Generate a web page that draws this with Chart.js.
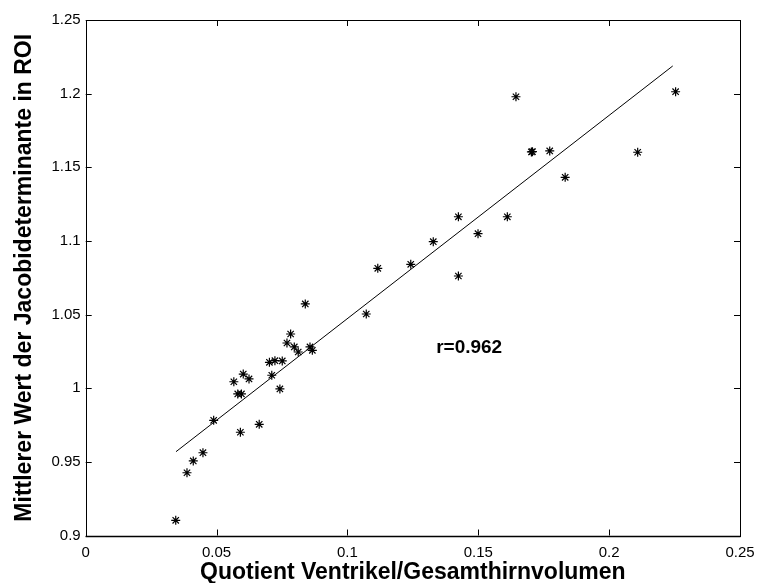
<!DOCTYPE html>
<html>
<head>
<meta charset="utf-8">
<script src="https://cdn.jsdelivr.net/npm/chart.js@4.4.1/dist/chart.umd.min.js"></script>
<style>
  html, body { margin: 0; padding: 0; background: #fff; }
  #wrap { width: 758px; height: 583px; }
</style>
</head>
<body>
<div id="wrap"><canvas id="c" width="758" height="583"></canvas></div>
<script>
const xValues = [0.0344, 0.0387, 0.0411, 0.0448, 0.0489, 0.0591, 0.0663, 0.0566, 0.0581, 0.0595,
                 0.0602, 0.0624, 0.0702, 0.0723, 0.0751, 0.0711, 0.0742, 0.0769, 0.0783, 0.0797,
                 0.0812, 0.0839, 0.0857, 0.0866, 0.1072, 0.1116, 0.1242, 0.1424, 0.1424, 0.1328,
                 0.1499, 0.1611, 0.1644, 0.1703, 0.1707, 0.1773, 0.1832, 0.2109, 0.2254];
const yValues = [0.9103, 0.9426, 0.9506, 0.9562, 0.9782, 0.9701, 0.9755, 1.0044, 0.9961, 0.9961,
                 1.0096, 1.0063, 1.0176, 1.0187, 1.0185, 1.0088, 0.9995, 1.0307, 1.0368, 1.0280,
                 1.0246, 1.0572, 1.0280, 1.0257, 1.0504, 1.0814, 1.0841, 1.1164, 1.0762, 1.0995,
                 1.1049, 1.1164, 1.1979, 1.1604, 1.1606, 1.1611, 1.1432, 1.1602, 1.2013];
const fitX = [0.0345, 0.2243];
const fitY = [0.9569, 1.2188];
const xTickLabels = ['0', '0.05', '0.1', '0.15', '0.2', '0.25'];
const yTickLabels = ['0.9', '0.95', '1', '1.05', '1.1', '1.15', '1.2', '1.25'];
const annotationText = 'r=0.962';
const annotationPos = [0.1339, 1.0273];
const xTitle = 'Quotient Ventrikel/Gesamthirnvolumen';
const yTitle = 'Mittlerer Wert der Jacobideterminante in ROI';

const points = xValues.map((x, i) => ({ x: x, y: yValues[i] }));
const fitLine = fitX.map((x, i) => ({ x: x, y: fitY[i] }));

const FONT = '"Liberation Sans", Arial, Helvetica, sans-serif';

const boxPlugin = {
  id: 'boxTicks',
  afterDraw(chart) {
    const ctx = chart.ctx;
    const a = chart.chartArea;
    const xs = chart.scales.x, ys = chart.scales.y;
    ctx.save();
    ctx.strokeStyle = '#000';
    ctx.lineWidth = 1;
    ctx.strokeRect(Math.round(a.left) + 0.5, Math.round(a.top) + 0.5,
                   Math.round(a.right - a.left), Math.round(a.bottom - a.top));
    ctx.lineWidth = 1.5;
    ctx.beginPath();
    ctx.moveTo(a.left, Math.round(a.bottom) + 0.5);
    ctx.lineTo(a.right + 0.5, Math.round(a.bottom) + 0.5);
    ctx.stroke();
    ctx.lineWidth = 1;
    const L = 6;
    ctx.beginPath();
    xs.ticks.forEach(t => {
      const px = Math.round(xs.getPixelForValue(t.value)) + 0.5;
      ctx.moveTo(px, a.bottom); ctx.lineTo(px, a.bottom - L);
      ctx.moveTo(px, a.top); ctx.lineTo(px, a.top + L);
    });
    ys.ticks.forEach(t => {
      const py = Math.round(ys.getPixelForValue(t.value)) + 0.5;
      ctx.moveTo(a.left, py); ctx.lineTo(a.left + L, py);
      ctx.moveTo(a.right, py); ctx.lineTo(a.right - L, py);
    });
    ctx.stroke();
    // annotation
    ctx.fillStyle = '#000';
    ctx.font = 'bold 19px ' + FONT;
    ctx.textAlign = 'left';
    ctx.textBaseline = 'middle';
    ctx.fillText(annotationText, xs.getPixelForValue(annotationPos[0]), ys.getPixelForValue(annotationPos[1]));
    ctx.restore();
  }
};

new Chart(document.getElementById('c'), {
  type: 'scatter',
  data: {
    datasets: [
      {
        data: points,
        pointStyle: 'star',
        pointRadius: 4.5,
        pointHoverRadius: 4.5,
        borderColor: '#000',
        backgroundColor: '#000',
        pointBorderWidth: 1.2,
        showLine: false
      },
      {
        data: fitLine,
        showLine: true,
        borderColor: '#000',
        borderWidth: 1,
        pointRadius: 0,
        fill: false
      }
    ]
  },
  plugins: [boxPlugin],
  options: {
    responsive: false,
    animation: false,
    events: [],
    layout: { padding: { left: 0, right: 18, top: 20, bottom: 0 } },
    plugins: { legend: { display: false }, tooltip: { enabled: false } },
    scales: {
      x: {
        type: 'linear',
        min: 0, max: 0.25,
        afterBuildTicks(scale) {
          scale.ticks = xTickLabels.map((s, i) => ({ value: parseFloat(s) }));
        },
        afterFit(scale) { scale.height = 47.5; scale.paddingLeft = 0; scale.paddingRight = 0; },
        grid: { display: false, drawTicks: false },
        border: { display: false },
        ticks: {
          color: '#000',
          font: { family: FONT, size: 15 },
          padding: 8,
          maxRotation: 0,
          autoSkip: false,
          callback: (v, i) => xTickLabels[i]
        },
        title: {
          display: true,
          text: xTitle,
          color: '#000',
          font: { family: FONT, size: 23, weight: 'bold', lineHeight: 1 },
          padding: { top: 0, bottom: -1 }
        }
      },
      y: {
        type: 'linear',
        min: 0.9, max: 1.25,
        afterBuildTicks(scale) {
          scale.ticks = yTickLabels.map((s, i) => ({ value: parseFloat(s) }));
        },
        afterFit(scale) { scale.width = 85.7; scale.paddingTop = 0; scale.paddingBottom = 0; },
        grid: { display: false, drawTicks: false },
        border: { display: false },
        ticks: {
          color: '#000',
          font: { family: FONT, size: 15 },
          padding: 5,
          autoSkip: false,
          callback: (v, i) => yTickLabels[i]
        },
        title: {
          display: true,
          text: yTitle,
          color: '#000',
          font: { family: FONT, size: 23, weight: 'bold', lineHeight: 1 },
          padding: { top: 13, bottom: 0 }
        }
      }
    }
  }
});
</script>
</body>
</html>
